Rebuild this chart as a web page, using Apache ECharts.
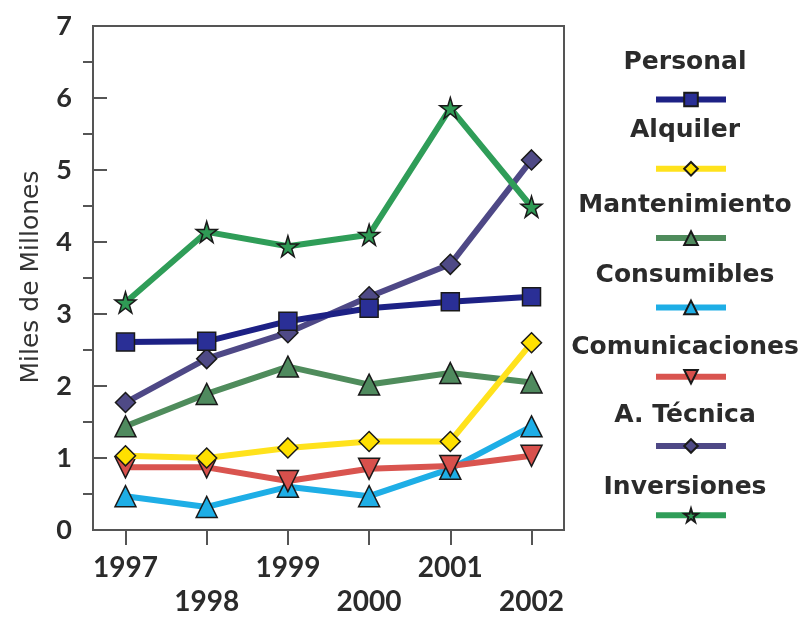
<!DOCTYPE html>
<html><head><meta charset="utf-8">
<script src="https://cdn.jsdelivr.net/npm/echarts@6/dist/echarts.min.js"></script>
<style>html,body{margin:0;padding:0;background:#fff}#c{width:806px;height:619px}</style>
</head><body><div id="c"></div>
<script>
const years = [1997, 1998, 1999, 2000, 2001, 2002];
const personal = [2.61, 2.62, 2.90, 3.08, 3.17, 3.24];
const alquiler = [1.03, 1.00, 1.14, 1.23, 1.23, 2.60];
const mantenimiento = [1.44, 1.89, 2.27, 2.02, 2.18, 2.05];
const consumibles = [0.47, 0.32, 0.60, 0.47, 0.85, 1.44];
const comunicaciones = [0.87, 0.87, 0.68, 0.85, 0.89, 1.03];
const tecnica = [1.77, 2.38, 2.74, 3.24, 3.69, 5.14];
const inversiones = [3.16, 4.14, 3.94, 4.10, 5.86, 4.49];
const seriesNames = ['Personal', 'Alquiler', 'Mantenimiento', 'Consumibles', 'Comunicaciones', 'A. Técnica', 'Inversiones'];
const yMinorTicks = [0.5, 1.5, 2.5, 3.5, 4.5, 5.5, 6.5];
const yAxisTitle = 'Miles de Millones';

const values = [personal, alquiler, mantenimiento, consumibles, comunicaciones, tecnica, inversiones];
const lineColors = ['#1d2185', '#ffe21c', '#4f8c5c', '#1eaee6', '#d9544f', '#4e4886', '#2f9d58'];
const markColors = ['#2a2f96', '#ffe000', '#4f8a5e', '#1eaee6', '#d8504c', '#4f4a86', '#2f9a55'];
const STAR = 'path://M50,0 L61,35 L98,35 L68,57 L79,91 L50,70 L21,91 L32,57 L2,35 L39,35 Z';
const symbols = ['rect', 'diamond', 'triangle', 'triangle', 'triangle', 'diamond', STAR];
const symbolSizes = [18, 20, 21, 21, 21, 20, 21];
const rotations = [0, 0, 0, 0, 180, 0, 0];
const zs = [4, 3, 2, 2, 2, 3, 5];

const chart = echarts.init(document.getElementById('c'));
const FONT = 'Lato';

const series = seriesNames.map((name, i) => ({
  name: name,
  type: 'line',
  data: years.map((y, j) => [y, values[i][j]]),
  symbol: symbols[i],
  symbolSize: symbolSizes[i],
  symbolRotate: rotations[i],
  showAllSymbol: true,
  z: zs[i],
  lineStyle: { color: lineColors[i], width: 6 },
  itemStyle: { color: markColors[i], borderColor: '#1a1a1a', borderWidth: 1.5 },
  emphasis: { disabled: true },
  animation: false
}));

const legendLabelY = [62, 130, 205, 275, 347, 415, 487];

const graphics = seriesNames.map((name, i) => ({
  type: 'text', x: 685, y: legendLabelY[i],
  style: {
    text: name, align: 'center', verticalAlign: 'middle',
    font: 'bold 25px "DejaVu Sans"', fill: '#2b2b2b'
  }
}));
graphics.push({
  type: 'text', x: 31, y: 277, rotation: Math.PI / 2,
  style: {
    text: yAxisTitle, align: 'center', verticalAlign: 'middle',
    font: '25px "DejaVu Sans"', fill: '#333'
  }
});

chart.setOption({
  backgroundColor: '#ffffff',
  animation: false,
  grid: {
    left: 93, right: 242, top: 26, bottom: 88,
    show: true, borderColor: '#555', borderWidth: 2, backgroundColor: 'transparent'
  },
  xAxis: {
    type: 'value', min: 1996.6, max: 2002.4,
    splitLine: { show: false },
    axisLine: { show: true, lineStyle: { color: '#555', width: 2 } },
    axisTick: { show: true, customValues: years, length: 15, lineStyle: { color: '#555', width: 2 } },
    axisLabel: {
      customValues: years, margin: 21,
      formatter: v => (v % 2 === 0 ? '\n' + v : '' + v),
      fontFamily: FONT, fontWeight: 'bold', fontSize: 28, lineHeight: 34, color: '#2b2b2b'
    }
  },
  yAxis: [{
    type: 'value', min: 0, max: 7, interval: 1,
    splitLine: { show: false },
    axisLine: { show: true, lineStyle: { color: '#555', width: 2 } },
    axisTick: { show: true, inside: true, length: 14, lineStyle: { color: '#555', width: 2 } },
    axisLabel: { margin: 21, fontFamily: FONT, fontWeight: 'bold', fontSize: 27, color: '#2b2b2b' }
  }, {
    type: 'value', min: 0, max: 7, position: 'left',
    splitLine: { show: false },
    axisLine: { show: false },
    axisLabel: { show: false },
    axisTick: { show: true, customValues: yMinorTicks, length: 10, lineStyle: { color: '#555', width: 2 } }
  }],
  legend: {
    orient: 'vertical', left: 648, top: 86,
    itemWidth: 70, itemHeight: 17, itemGap: 53,
    formatter: () => '',
    textStyle: { fontSize: 1 },
    lineStyle: { width: 6 },
    selectedMode: false,
    data: seriesNames
  },
  graphic: graphics,
  series: series
});
</script>
</body></html>
